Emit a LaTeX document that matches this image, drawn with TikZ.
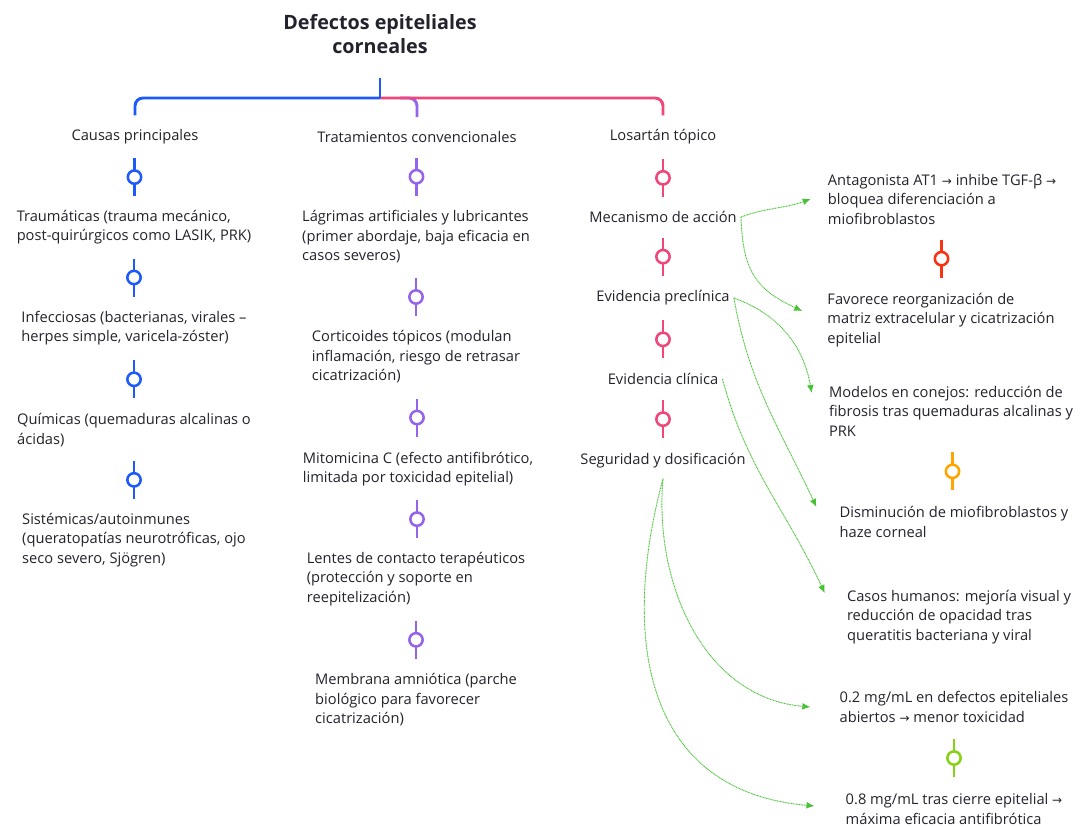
\documentclass[tikz,border=0pt]{standalone}
\usepackage{fontspec}
\setmainfont{Open Sans}
\newfontfamily\symfont{DejaVu Sans}
\usetikzlibrary{arrows.meta, positioning, calc}
\definecolor{ink}{RGB}{35,35,45}
\definecolor{cblue}{RGB}{30,90,250}
\definecolor{cpurple}{RGB}{150,100,235}
\definecolor{cpink}{RGB}{240,70,120}
\definecolor{cred}{RGB}{250,50,20}
\definecolor{corange}{RGB}{255,165,0}
\definecolor{clime}{RGB}{135,210,20}
\definecolor{leaf}{RGB}{70,195,50}
\newcommand{\toarrow}{{\symfont\small →}}

\tikzset{
  pics/bead/.style={code={
    \draw[#1, line width=1.9pt] (0,19) -- (0,-19);
    \draw[#1, line width=1.9pt, fill=white] (0,0) circle[radius=5pt];
  }},
  hint/.style={draw=leaf, line width=0.7pt, dash pattern=on 0.7pt off 0.5pt,
    -{Latex[length=6pt,width=5pt]}}
}

\begin{document}
\begin{tikzpicture}[x=0.75pt, y=0.75pt,
    every node/.style={align=left, text=ink, inner sep=3pt,
      font=\fontsize{11}{14.6}\selectfont},
    head/.style={align=center, font=\bfseries\fontsize{14.8}{18.5}\selectfont},
    bracket/.style={line width=2.2pt, rounded corners=6pt}
  ]
  \useasboundingbox[fill=white] (0,0) rectangle (1081,-827);

  % title and first level
  \node[head] (root) at (380,-34) {Defectos epiteliales\\corneales};
  \node (cau) at (135,-137) {Causas principales};
  \node (tra) at (417,-137) {Tratamientos convencionales};
  \node (los) at (663,-137) {Losartán tópico};

  \coordinate (stem) at (380,-78);
  \coordinate (hub) at (380,-98);
  \draw[bracket, cpurple] ($(hub)+(20,0)$) -| ($(tra.north)+(0,10)$);
  \draw[bracket, cpink] (hub) -| ($(los.north)+(0,10)$);
  \draw[bracket, cblue] (hub) -| ($(cau.north)+(0,10)$);
  \draw[line width=2.2pt, cblue] (stem) -- (hub);

  % causas
  \node (trau) at (134,-227) {Traumáticas (trauma mecánico,\\post-quirúrgicos como LASIK, PRK)};
  \node (infe) at (134,-328) {Infecciosas (bacterianas, virales –\\herpes simple, varicela-zóster)};
  \node (quim) at (134,-430) {Químicas (quemaduras alcalinas o\\ácidas)};
  \node (sist) at (134,-540) {Sistémicas/autoinmunes\\(queratopatías neurotróficas, ojo\\seco severo, Sjögren)};

  % tratamientos
  \node (lagr) at (416,-237) {Lágrimas artificiales y lubricantes\\(primer abordaje, baja eficacia en\\casos severos)};
  \node (cort) at (416,-357) {Corticoides tópicos (modulan\\inflamación, riesgo de retrasar\\cicatrización)};
  \node (mito) at (418,-469) {Mitomicina C (efecto antifibrótico,\\limitada por toxicidad epitelial)};
  \node (lent) at (416,-579) {Lentes de contacto terapéuticos\\(protección y soporte en\\reepitelización)};
  \node (memb) at (416,-700) {Membrana amniótica (parche\\biológico para favorecer\\cicatrización)};

  % losartan
  \node (meca) at (663,-217) {Mecanismo de acción};
  \node (prec) at (663,-298) {Evidencia preclínica};
  \node (clin) at (663,-379) {Evidencia clínica};
  \node (segu) at (663,-461) {Seguridad y dosificación};

  % detalles
  \node (anta) at (942,-199) {Antagonista AT1 \toarrow{} inhibe TGF-β \toarrow\\bloquea diferenciación a\\miofibroblastos};
  \node (favo) at (941,-320) {Favorece reorganización de\\matriz extracelular y cicatrización\\epitelial};
  \node (mode) at (951,-411) {Modelos en conejos: reducción de\\fibrosis tras quemaduras alcalinas y\\PRK};
  \node (dism) at (954,-522) {Disminución de miofibroblastos y\\haze corneal};
  \node (caso) at (959,-617) {Casos humanos: mejoría visual y\\reducción de opacidad tras\\queratitis bacteriana y viral};
  \node (dlow) at (954,-707) {0.2 mg/mL en defectos epiteliales\\abiertos \toarrow{} menor toxicidad};
  \node (dhigh) at (954,-809) {0.8 mg/mL tras cierre epitelial \toarrow\\máxima eficacia antifibrótica};

  % beads between levels
  \pic at ($(cau.south)!0.5!(trau.north)$) {bead=cblue};
  \pic at ($(trau.south)!0.5!(infe.north)$) {bead=cblue};
  \pic at ($(infe.south)!0.5!(quim.north)$) {bead=cblue};
  \pic at ($(quim.south)!0.5!(sist.north)$) {bead=cblue};
  \pic at ($(tra.south)!0.5!(lagr.north)$) {bead=cpurple};
  \pic at ($(lagr.south)!0.5!(cort.north)$) {bead=cpurple};
  \pic at ($(cort.south)!0.5!(mito.north)$) {bead=cpurple};
  \pic at ($(mito.south)!0.5!(lent.north)$) {bead=cpurple};
  \pic at ($(lent.south)!0.5!(memb.north)$) {bead=cpurple};
  \pic at ($(los.south)!0.5!(meca.north)$) {bead=cpink};
  \pic at ($(meca.south)!0.5!(prec.north)$) {bead=cpink};
  \pic at ($(prec.south)!0.5!(clin.north)$) {bead=cpink};
  \pic at ($(clin.south)!0.5!(segu.north)$) {bead=cpink};
  \pic at ($(anta.south)!0.5!(favo.north)$) {bead=cred};
  \pic at ($(mode.south)!0.5!(dism.north)$) {bead=corange};
  \pic at ($(dlow.south)!0.5!(dhigh.north)$) {bead=clime};

  % dotted links
  \draw[hint] (meca.east) to[out=20, in=200] ($(anta.west)+(-13,0)$);
  \draw[hint] (meca.east) to[out=-88, in=155, looseness=1.2] ($(favo.west)+(-21,9)$);
  \draw[hint] (prec.east) to[out=-20, in=100] ($(mode.west)+(-13,18)$);
  \draw[hint] (prec.east) to[out=-80, in=115] ($(dism.west)+(-19,15)$);
  \draw[hint] (clin.east) to[out=-75, in=115] ($(caso.west)+(-18,24)$);
  \draw[hint] ($(segu.south)+(0,-6)$) to[out=-95, in=175] ($(dlow.west)+(-25,0)$);
  \draw[hint] ($(segu.south)+(0,-6)$) to[out=-105, in=175, looseness=1.2] ($(dhigh.west)+(-27,3)$);
\end{tikzpicture}
\end{document}
